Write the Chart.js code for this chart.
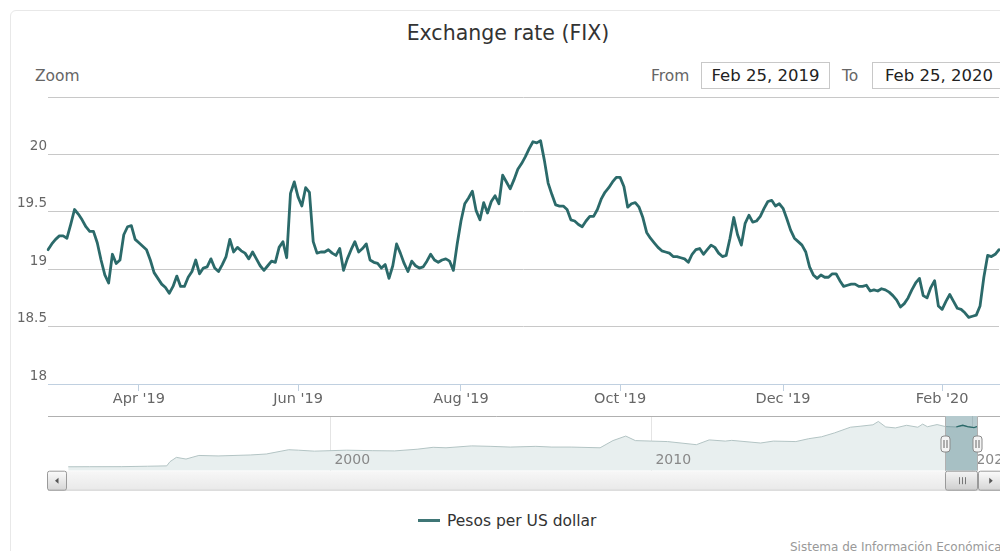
<!DOCTYPE html>
<html>
<head>
<meta charset="utf-8">
<script src="https://cdn.jsdelivr.net/npm/chart.js@4.4.1/dist/chart.umd.min.js"></script>
<style>
  html, body { margin:0; padding:0; background:#fff; width:1000px; height:551px; overflow:hidden; }
  body { position:relative; font-family:'DejaVu Sans', sans-serif; }
  .abs { position:absolute; white-space:nowrap; }
  #frame { position:absolute; left:10px; top:10px; width:1010px; height:560px; border:1px solid #e8e8e8; border-radius:6px; }
  #title { left:0; width:1016px; top:21px; text-align:center; font-size:20.5px; color:#333; }
  #zoom { left:35px; top:67px; font-size:15.5px; color:#666; }
  #fromLbl { left:651px; top:67px; font-size:15.5px; color:#666; }
  #toLbl { left:842px; top:67px; font-size:15.5px; color:#666; }
  .box { position:absolute; top:62px; height:25px; border:1px solid #c8c8c8; font-size:16.5px; color:#222; line-height:25px; text-align:center; background:#fff; }
  #fromBox { left:701px; width:127px; }
  #toBox { left:872px; width:132px; }
  #mainWrap { left:0; top:90px; }
  #navWrap { left:0; top:405px; }
  #legend { left:418px; top:512px; font-size:15.5px; color:#333; }
  #legend .sym { display:inline-block; width:22px; height:3px; background:#3f7676; vertical-align:middle; margin-right:7px; position:relative; top:-1px; }
  #credits { left:790px; top:540px; font-size:12px; color:#999; }
</style>
</head>
<body>
<div id="frame"></div>
<div id="title" class="abs">Exchange rate (FIX)</div>
<div id="zoom" class="abs">Zoom</div>
<div id="fromLbl" class="abs">From</div>
<div id="fromBox" class="box">Feb 25, 2019</div>
<div id="toLbl" class="abs">To</div>
<div id="toBox" class="box">Feb 25, 2020</div>
<div id="mainWrap" class="abs"><canvas id="main" width="1000" height="325"></canvas></div>
<div id="navWrap" class="abs"><canvas id="nav" width="1000" height="90"></canvas></div>
<div id="legend" class="abs"><span class="sym"></span>Pesos per US dollar</div>
<div id="credits" class="abs">Sistema de Información Económica</div>
<script>
// ---------- DATA ----------
const seriesName = 'Pesos per US dollar';
const rangeStart = '2019-02-25';
const rangeEnd = '2020-02-25';
// Mexican banking holidays inside the range (no FIX published)
const holidays = ['2019-03-18','2019-04-18','2019-04-19','2019-05-01','2019-09-16','2019-11-18','2019-12-12','2019-12-25','2020-01-01','2020-02-03'];

// FIX values, one per banking day
const fixValues = [
  19.17,19.22,19.26,19.29,19.29,19.27,19.39,19.52,19.48,19.43,
  19.37,19.33,19.33,19.23,19.08,18.95,18.88,19.13,19.05,19.08,
  19.30,19.37,19.38,19.26,19.23,19.20,19.17,19.08,18.97,18.92,
  18.87,18.84,18.79,18.85,18.94,18.85,18.85,18.93,18.98,19.08,
  18.96,19.01,19.02,19.09,19.01,18.98,19.04,19.11,19.26,19.15,
  19.19,19.16,19.14,19.09,19.15,19.09,19.03,18.99,19.03,19.07,
  19.06,19.19,19.24,19.10,19.66,19.76,19.63,19.55,19.71,19.67,
  19.24,19.14,19.15,19.15,19.17,19.14,19.12,19.18,18.99,19.09,
  19.17,19.24,19.15,19.18,19.22,19.08,19.06,19.05,19.01,19.04,
  18.92,19.03,19.22,19.14,19.05,18.98,19.07,19.03,19.01,19.02,
  19.07,19.13,19.08,19.06,19.08,19.09,19.07,18.99,19.22,19.42,
  19.57,19.62,19.68,19.51,19.43,19.58,19.49,19.59,19.64,19.57,
  19.82,19.76,19.70,19.78,19.87,19.92,19.98,20.05,20.11,20.10,
  20.12,19.95,19.75,19.65,19.56,19.55,19.55,19.52,19.43,19.42,
  19.39,19.37,19.42,19.46,19.46,19.52,19.61,19.67,19.71,19.76,
  19.80,19.80,19.72,19.54,19.57,19.58,19.54,19.45,19.32,19.27,
  19.23,19.19,19.16,19.15,19.14,19.11,19.11,19.10,19.09,19.06,
  19.13,19.17,19.18,19.13,19.17,19.21,19.19,19.14,19.11,19.12,
  19.27,19.45,19.30,19.21,19.40,19.47,19.41,19.42,19.46,19.53,
  19.59,19.60,19.55,19.57,19.53,19.44,19.34,19.27,19.24,19.21,
  19.15,19.02,18.95,18.92,18.95,18.93,18.93,18.96,18.96,18.90,
  18.85,18.86,18.87,18.87,18.85,18.85,18.86,18.81,18.82,18.81,
  18.83,18.82,18.80,18.77,18.73,18.67,18.70,18.75,18.82,18.88,
  18.92,18.77,18.75,18.84,18.90,18.68,18.65,18.72,18.78,18.72,
  18.66,18.65,18.62,18.58,18.59,18.60,18.68,18.93,19.12,19.11,
  19.13,19.17
];

// x-axis ticks (first banking day of the month) and their labels
const tickDates = ['2019-04-01','2019-06-03','2019-08-01','2019-10-01','2019-12-02','2020-02-04'];
const tickLabels = ["Apr '19","Jun '19","Aug '19","Oct '19","Dec '19","Feb '20"];
const yTicks = [18, 18.5, 19, 19.5, 20, 20.5];

// Navigator: full history (decimal year, value) read from the overview strip
const navYears = [1991.83,1992.5,1993.5,1994.3,1994.9,1995.0,1995.2,1995.5,1995.9,1996.5,1997.5,1998.0,1998.7,1999.0,1999.5,
  2000.5,2001.3,2002.0,2002.7,2003.2,2003.6,2004.4,2005.0,2005.6,2006.4,2006.9,2007.5,2008.4,2008.8,2009.2,2009.5,
  2010.0,2010.5,2011.4,2011.8,2012.3,2012.5,2013.4,2013.8,2014.5,2014.9,2015.3,2015.7,2016.2,2016.5,2016.9,2017.07,
  2017.3,2017.6,2017.95,2018.3,2018.45,2018.6,2018.9,2019.15,2019.5,2019.7,2019.85,2020.05,2020.15];
const navValues = [3.07,3.10,3.12,3.30,3.45,5.2,7.0,6.3,7.8,7.6,8.0,8.4,10.2,10.0,9.6,
  10.0,9.8,9.7,10.4,11.2,11.0,11.8,11.6,11.3,11.6,11.3,11.3,11.0,14.0,15.9,14.0,
  13.8,13.6,12.3,14.3,13.8,14.1,13.0,13.8,13.6,14.8,15.6,17.2,19.6,20.0,20.6,22.0,
  19.7,19.3,20.4,19.6,20.9,19.8,20.7,19.9,19.7,20.4,19.8,19.4,19.9];
const navTicks = [2000, 2010, 2020];
const navRange = [1991.2, 2020.86];
const selected = [2019.151, 2020.151];

// ---------- BUILD ----------
function iso(d){ return d.toISOString().slice(0,10); }
const dates = [];
for (let d = new Date(rangeStart + 'T00:00:00Z'); iso(d) <= rangeEnd; d.setUTCDate(d.getUTCDate()+1)) {
  const wd = d.getUTCDay();
  if (wd === 0 || wd === 6) continue;
  if (holidays.includes(iso(d))) continue;
  dates.push(iso(d));
}

Chart.defaults.font.family = "'DejaVu Sans', sans-serif";
const TEAL = '#2b6a6a';

new Chart(document.getElementById('main'), {
  type: 'line',
  data: {
    labels: dates,
    datasets: [{
      label: seriesName,
      data: fixValues,
      borderColor: TEAL,
      borderWidth: 2.8,
      pointRadius: 0,
      tension: 0,
      fill: false,
      borderJoinStyle: 'round',
      borderCapStyle: 'round'
    }]
  },
  options: {
    responsive: false,
    animation: false,
    layout: { padding: { top: 7, right: 1, left: 0, bottom: 0 } },
    plugins: { legend: { display: false }, tooltip: { enabled: false } },
    scales: {
      x: {
        type: 'category',
        offset: false,
        afterBuildTicks: s => { s.ticks = tickDates.map(d => ({ value: dates.indexOf(d) })); },
        ticks: {
          autoSkip: false, maxRotation: 0, minRotation: 0,
          color: '#666', font: { size: 14.5 }, padding: 0,
          callback: (v, i) => tickLabels[i]
        },
        grid: { drawOnChartArea: false, drawTicks: true, tickLength: 7, color: '#c0d0e0' },
        border: { display: true, color: '#c0d0e0' },
        afterFit: s => { s.height = 31; s.paddingLeft = 0; s.paddingRight = 0; }
      },
      y: {
        min: yTicks[0], max: yTicks[yTicks.length - 1],
        afterBuildTicks: s => { s.ticks = yTicks.map(v => ({ value: v })); },
        ticks: {
          color: '#666', font: { size: 13.5 }, padding: 1, labelOffset: -8,
          callback: v => (v === yTicks[yTicks.length - 1] ? '' : String(v))
        },
        grid: {
          drawTicks: false,
          color: c => (c.tick && c.tick.value === yTicks[0]) ? 'rgba(0,0,0,0)' : '#c8c8c8'
        },
        border: { display: false },
        afterFit: s => { s.width = 48; s.paddingTop = 0; s.paddingBottom = 0; }
      }
    }
  }
});

// ---------- NAVIGATOR ----------
const navData = navYears.map((x, i) => ({ x, y: navValues[i] }));
const navSel = navData.filter(p => p.x >= selected[0]);

const navDecor = {
  id: 'navDecor',
  beforeDatasetsDraw(chart) {
    const { ctx, chartArea: a, scales: { x } } = chart;
    ctx.save();
    ctx.strokeStyle = '#e4e4e4';
    ctx.lineWidth = 1;
    navTicks.forEach(t => {
      const px = Math.round(x.getPixelForValue(t)) + 0.5;
      ctx.beginPath(); ctx.moveTo(px, a.top); ctx.lineTo(px, a.bottom); ctx.stroke();
    });
    ctx.restore();
  },
  afterDatasetDraw(chart, args) {
    if (args.index !== 0) return; // after the area dataset
    const { ctx, chartArea: a, scales: { x } } = chart;
    const x0 = x.getPixelForValue(selected[0]), x1 = x.getPixelForValue(selected[1]);
    ctx.save();
    ctx.fillStyle = 'rgba(60,115,125,0.38)';
    ctx.fillRect(x0, a.top, x1 - x0, a.bottom - a.top);
    ctx.restore();
  },
  afterDraw(chart) {
    const { ctx, chartArea: a, scales: { x } } = chart;
    const x0 = Math.round(x.getPixelForValue(selected[0])) + 0.5;
    const x1 = Math.round(x.getPixelForValue(selected[1])) + 0.5;
    ctx.save();
    // labels
    ctx.fillStyle = '#888';
    ctx.font = "14px 'DejaVu Sans'";
    ctx.textBaseline = 'middle';
    navTicks.forEach(t => { ctx.fillText(String(t), x.getPixelForValue(t) + 4, a.bottom - 10); });
    // outline
    ctx.strokeStyle = '#b0b0b0';
    ctx.lineWidth = 1;
    const top = Math.round(a.top) + 0.5;
    ctx.beginPath();
    ctx.moveTo(a.left, top); ctx.lineTo(x0, top); ctx.lineTo(x0, a.bottom);
    ctx.moveTo(x1, a.bottom); ctx.lineTo(x1, top); ctx.lineTo(a.right, top);
    ctx.stroke();
    // handles
    const hy = a.top + 20;
    [x0, x1].forEach(hx => {
      ctx.fillStyle = '#f4f4f4';
      ctx.strokeStyle = '#8a8a8a';
      ctx.beginPath();
      ctx.roundRect(hx - 4.5, hy, 9, 16, 3);
      ctx.fill(); ctx.stroke();
      ctx.strokeStyle = '#666';
      ctx.beginPath();
      ctx.moveTo(hx - 1.5, hy + 4); ctx.lineTo(hx - 1.5, hy + 12);
      ctx.moveTo(hx + 1.5, hy + 4); ctx.lineTo(hx + 1.5, hy + 12);
      ctx.stroke();
    });
    // scrollbar
    const sy = a.bottom + 0.5, sh = 19;
    let g = ctx.createLinearGradient(0, sy, 0, sy + sh);
    g.addColorStop(0, '#f7f7f7'); g.addColorStop(1, '#e9e9e9');
    ctx.fillStyle = g;
    ctx.fillRect(a.left, sy, a.right - a.left, sh);
    ctx.strokeStyle = '#cfcfcf';
    ctx.beginPath(); ctx.moveTo(a.left, sy + sh); ctx.lineTo(a.right, sy + sh); ctx.stroke();
    const button = (bx, bw, dir) => {
      const gg = ctx.createLinearGradient(0, sy, 0, sy + sh);
      gg.addColorStop(0, '#fbfbfb'); gg.addColorStop(1, '#d6d6d6');
      ctx.fillStyle = gg; ctx.strokeStyle = '#9a9a9a';
      ctx.beginPath(); ctx.roundRect(bx, sy, bw, sh, 2); ctx.fill(); ctx.stroke();
      const cx = bx + bw / 2, cy = sy + sh / 2;
      ctx.fillStyle = '#555';
      ctx.beginPath();
      if (dir < 0) { ctx.moveTo(cx + 1.5, cy - 3); ctx.lineTo(cx - 2, cy); ctx.lineTo(cx + 1.5, cy + 3); }
      else { ctx.moveTo(cx - 1.5, cy - 3); ctx.lineTo(cx + 2, cy); ctx.lineTo(cx - 1.5, cy + 3); }
      ctx.closePath(); ctx.fill();
    };
    button(a.left - 0.5, 19, -1);
    button(x1 + 1, a.right - x1 + 2, 1);
    // thumb
    const tg = ctx.createLinearGradient(0, sy, 0, sy + sh);
    tg.addColorStop(0, '#f4f4f4'); tg.addColorStop(1, '#cfcfcf');
    ctx.fillStyle = tg; ctx.strokeStyle = '#9a9a9a';
    ctx.beginPath(); ctx.roundRect(x0, sy, x1 - x0, sh, 2); ctx.fill(); ctx.stroke();
    const cx = (x0 + x1) / 2;
    ctx.strokeStyle = '#777';
    ctx.beginPath();
    [-3, 0, 3].forEach(d => { ctx.moveTo(Math.round(cx + d) + 0.5, sy + 6); ctx.lineTo(Math.round(cx + d) + 0.5, sy + 13); });
    ctx.stroke();
    ctx.restore();
  }
};

new Chart(document.getElementById('nav'), {
  type: 'line',
  data: {
    datasets: [
      { data: navData, order: 2, borderColor: '#b3c4c4', borderWidth: 1, backgroundColor: '#e8efef', fill: 'start', pointRadius: 0, tension: 0 },
      { data: navSel, order: 1, borderColor: TEAL, borderWidth: 1.3, fill: false, pointRadius: 0, tension: 0 }
    ]
  },
  options: {
    responsive: false,
    animation: false,
    layout: { padding: { left: 48, right: 0, top: 11, bottom: 24.3 } },
    plugins: { legend: { display: false }, tooltip: { enabled: false } },
    scales: {
      x: { type: 'linear', min: navRange[0], max: navRange[1], display: false },
      y: { min: 1.43, max: 24.28, display: false }
    }
  },
  plugins: [navDecor]
});
</script>
</body>
</html>
